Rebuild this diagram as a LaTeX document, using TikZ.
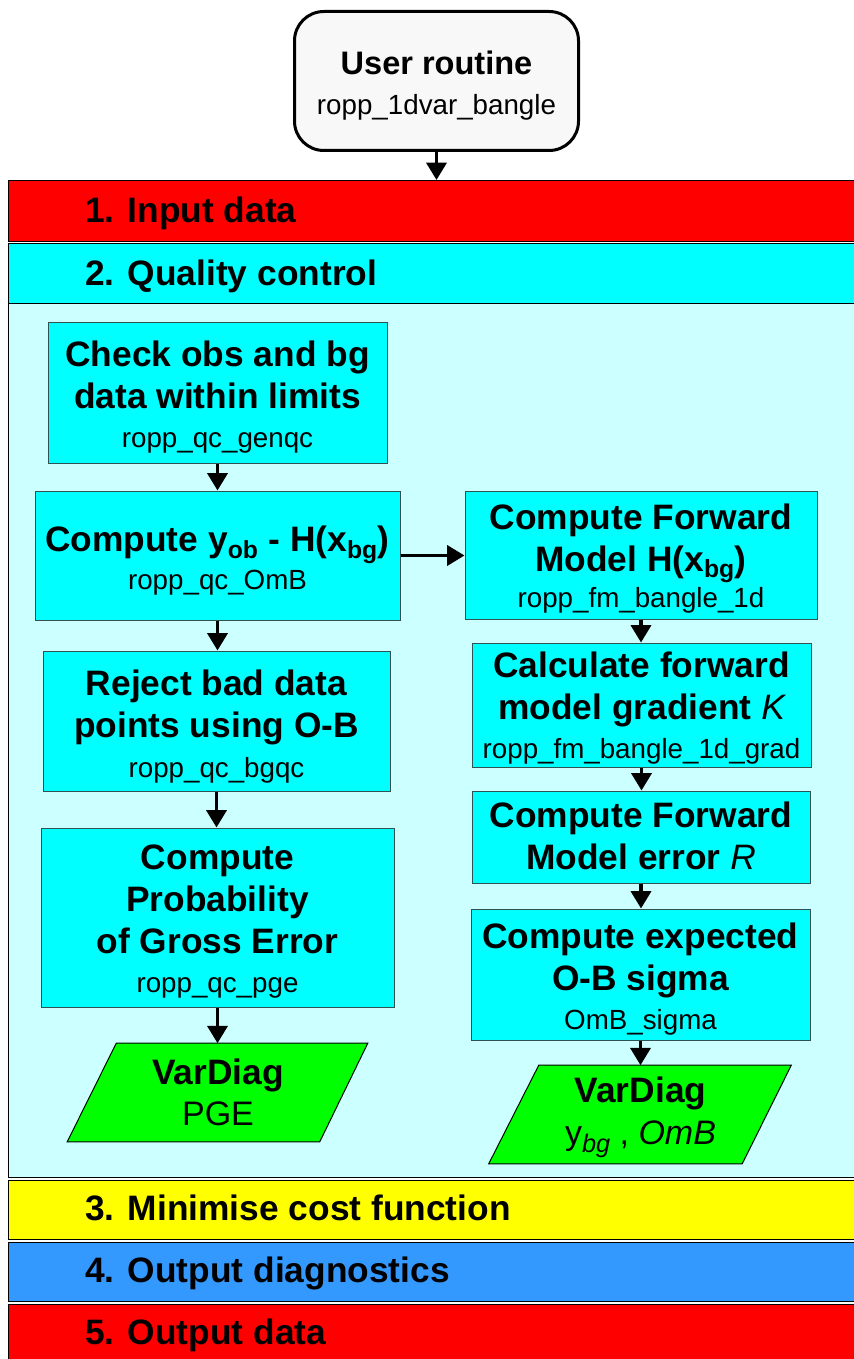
\documentclass[tikz,border=0pt]{standalone}
\usepackage{fontspec}
\setmainfont{Liberation Sans}
\usetikzlibrary{arrows.meta,calc}

\definecolor{hotred}{HTML}{FF0000}
\definecolor{qccyan}{HTML}{00FFFF}
\definecolor{qcpale}{HTML}{CCFFFF}
\definecolor{minyellow}{HTML}{FFFF00}
\definecolor{diagblue}{HTML}{3399FF}
\definecolor{diaggreen}{HTML}{00FF00}
\definecolor{boxedge}{HTML}{2F5252}
\definecolor{userfill}{HTML}{F8F8F8}

\newcommand\px{0.75pt}
\newcommand\flowtitle{\fontsize{26.5pt}{31.5pt}\selectfont\bfseries}
\newcommand\flowcode{\fontsize{20.8pt}{25pt}\selectfont\mdseries}
\newcommand\flowplain{\fontsize{25.5pt}{30pt}\selectfont\mdseries}

\tikzset{
  proc/.style={draw=boxedge, line width=0.75pt, fill=qccyan, inner sep=0pt},
  proctext/.style={align=center, font=\flowtitle, inner sep=0pt},
  band/.style={draw=black, line width=0.75pt, anchor=north west, inner sep=0pt,
    minimum width=860*\px},
  bandlabel/.style={anchor=base west, inner sep=0pt, font=\flowtitle},
  diagtext/.style={align=center, font=\flowtitle, inner sep=0pt,
    minimum height=98*\px, minimum width=203*\px},
  diagshape/.style={draw=black, line width=0.75pt, fill=diaggreen},
  flow/.style={line width=2.6pt, -{Triangle[length=13pt,width=15pt]}},
}

\begin{document}
\begin{tikzpicture}[x=0.75pt,y=-0.75pt]
\useasboundingbox (0,0) rectangle (853,1359);

% stage bands
\node[band, fill=hotred, minimum height=61*\px] (inband) at (8,180) {};
\node[band, fill=qcpale, minimum height=934*\px] (qcarea) at (8,243) {};
\node[band, fill=qccyan, minimum height=60*\px] (qcband) at (8,243) {};
\node[band, fill=minyellow, minimum height=59*\px] (minband) at (8,1180) {};
\node[band, fill=diagblue, minimum height=59*\px] (diagband) at (8,1242) {};
\node[band, fill=hotred, minimum height=60*\px] (outband) at (8,1304) {};

\node[bandlabel] (inlabel) at (85,222.5) {1. Input data};
\node[bandlabel] (qclabel) at (85,285.5) {2. Quality control};
\node[bandlabel] (minlabel) at (85,1220.5) {3. Minimise cost function};
\node[bandlabel] (diaglabel) at (85,1282.5) {4. Output diagnostics};
\node[bandlabel] (outlabel) at (85,1344.5) {5. Output data};

% calling routine
\node[draw=black, line width=2.25pt, fill=userfill, rounded corners=22pt,
      minimum width=284*\px, minimum height=139*\px, inner sep=0pt] (user) at (436.5,81) {};
\node[align=center, inner sep=0pt, font=\fontsize{24.4pt}{30pt}\selectfont\bfseries]
  (usertext) at (436.5,85.5) {User routine\\{\flowcode ropp\_1dvar\_bangle}};

% left column
\node[proc, minimum width=339*\px, minimum height=141*\px] (check) at (217.5,392.5) {};
\node[proctext] (checktext) at (217.5,397.5)
  {Check obs and bg\\data within limits\\[-2.25pt]{\flowcode ropp\_qc\_genqc}};

\node[proc, minimum width=365*\px, minimum height=129*\px] (omb) at (217.5,555.5) {};
\node[proctext] (ombtext) at (217.5,560.5)
  {Compute y\textsubscript{ob} - H(x\textsubscript{bg})\\[-3.5pt]{\flowcode ropp\_qc\_OmB}};

\node[proc, minimum width=347*\px, minimum height=140*\px] (reject) at (216.5,721) {};
\node[proctext] (rejecttext) at (216.5,726.5)
  {Reject bad data\\points using O-B\\[-1.5pt]{\flowcode ropp\_qc\_bgqc}};

\node[proc, minimum width=353*\px, minimum height=179*\px] (prob) at (217.5,917.5) {};
\node[proctext] (probtext) at (217.5,922)
  {Compute\\Probability\\of Gross Error\\[-2.25pt]{\flowcode ropp\_qc\_pge}};

\node[diagtext] (pge) at (218,1092.5) {};
\draw[diagshape] ($(pge.south west)+(-49,0)$) -- (pge.north west)
  -- ($(pge.north east)+(48,0)$) -- (pge.south east) -- cycle;
\node[diagtext] (pgetext) at (218,1092.5) {VarDiag\\[-1pt]{\flowplain PGE}};

% right column
\node[proc, minimum width=352*\px, minimum height=128*\px] (fm) at (641,555) {};
\node[proctext] (fmtext) at (641,558.5)
  {Compute Forward\\Model H(x\textsubscript{bg})\\[-4pt]{\flowcode ropp\_fm\_bangle\_1d}};

\node[proc, minimum width=339*\px, minimum height=124*\px] (grad) at (641.5,705) {};
\node[proctext] (gradtext) at (641.5,708)
  {Calculate forward\\model gradient {\mdseries\itshape K}\\[-2pt]{\flowcode ropp\_fm\_bangle\_1d\_grad}};

\node[proc, minimum width=338*\px, minimum height=92*\px] (fmerr) at (641,837) {};
\node[proctext] (fmerrtext) at (641,836)
  {Compute Forward\\Model error {\mdseries\itshape R}};

\node[proc, minimum width=339*\px, minimum height=131*\px] (sigma) at (640.5,974.5) {};
\node[proctext] (sigmatext) at (640.5,979)
  {Compute expected\\O-B sigma\\[-2.25pt]{\flowcode OmB\_sigma}};

\node[diagtext] (ybg) at (640.5,1114.5) {};
\draw[diagshape] ($(ybg.south west)+(-50,0)$) -- (ybg.north west)
  -- ($(ybg.north east)+(49,0)$) -- (ybg.south east) -- cycle;
\node[diagtext] (ybgtext) at (640.5,1117.5)
  {VarDiag\\{\flowplain y\raisebox{-0.22em}{\fontsize{19pt}{20pt}\selectfont\itshape bg} , \itshape OmB}};

% connectors
\draw[flow] (user.south) -- (user.south |- inband.north);
\draw[flow] (check.south) -- (check.south |- omb.north);
\draw[flow] (omb.south) -- (omb.south |- reject.north);
\draw[flow] (reject.south) -- (reject.south |- prob.north);
\draw[flow] (prob.south) -- (prob.south |- pge.north);
\draw[flow] (omb.east) -- (omb.east -| fm.west);
\draw[flow] (fm.south) -- (fm.south |- grad.north);
\draw[flow] (grad.south) -- (grad.south |- fmerr.north);
\draw[flow] (fmerr.south) -- (fmerr.south |- sigma.north);
\draw[flow] (sigma.south) -- (sigma.south |- ybg.north);
\end{tikzpicture}
\end{document}
